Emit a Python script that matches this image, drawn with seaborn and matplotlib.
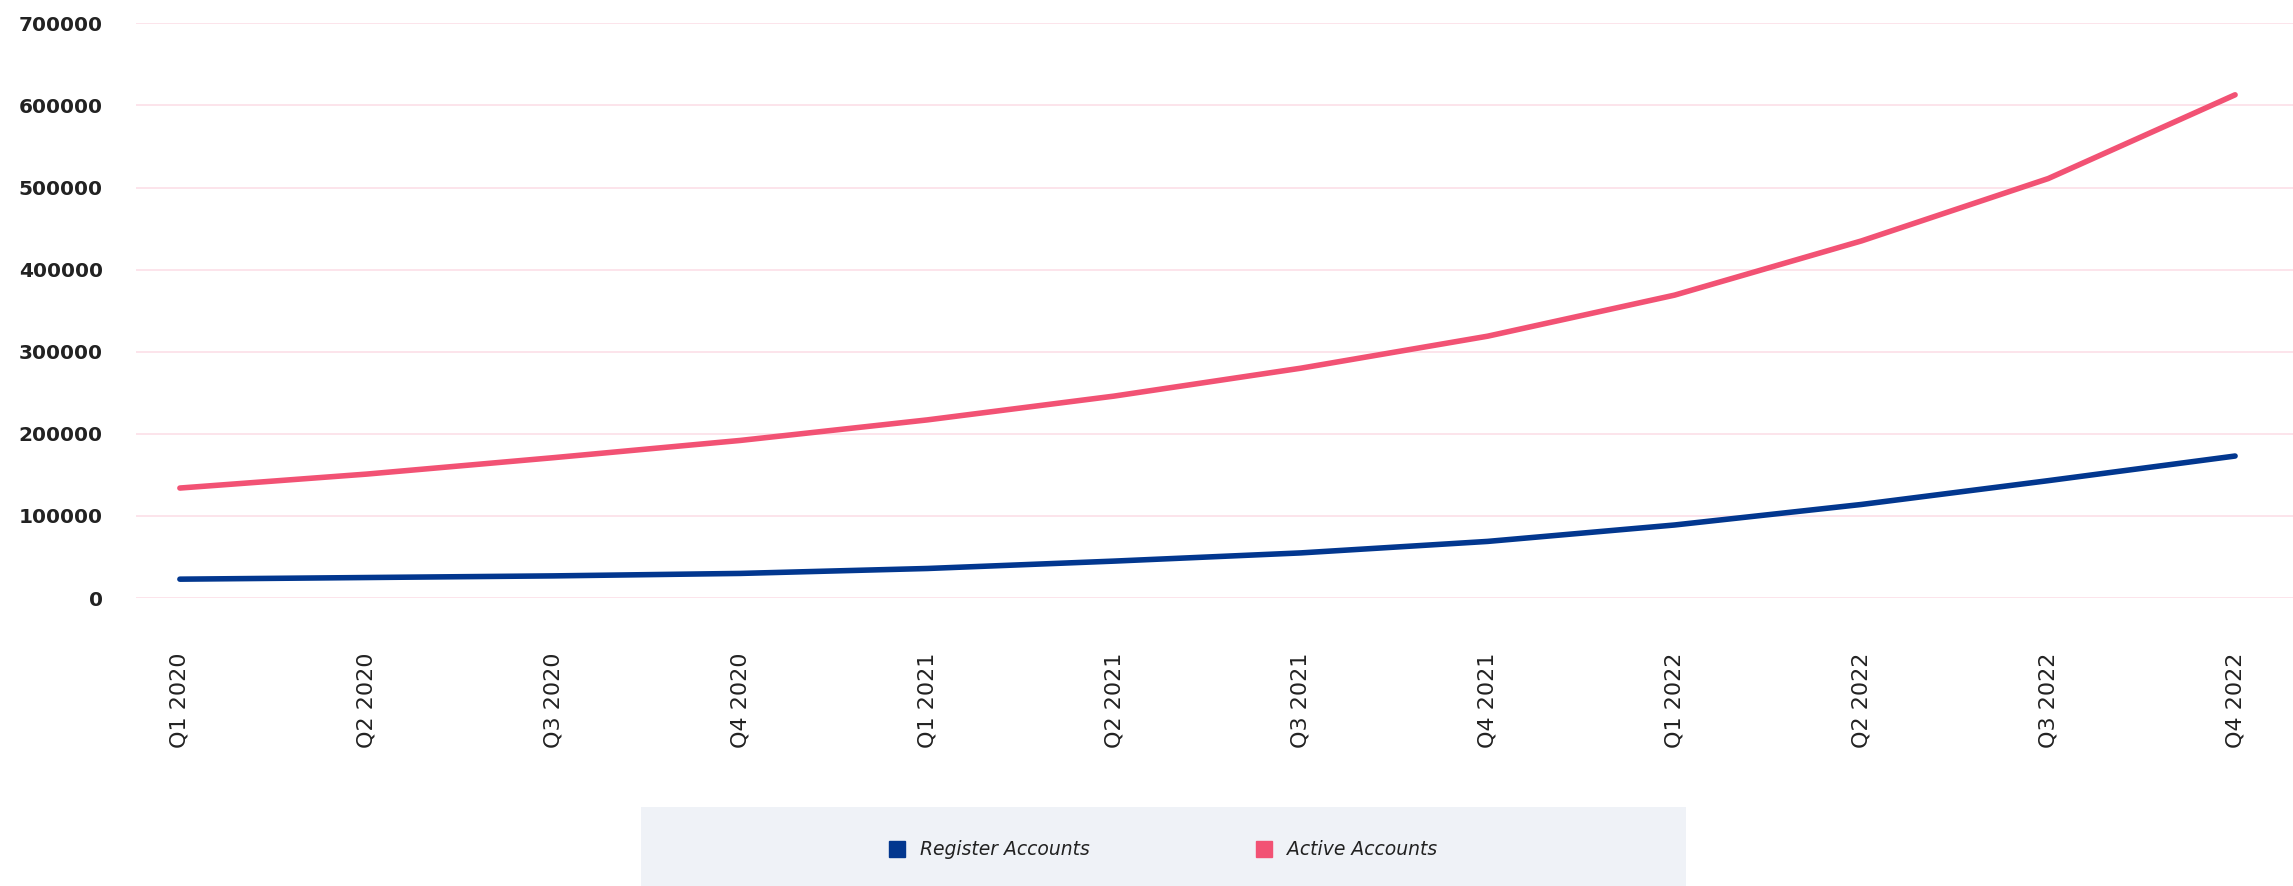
import matplotlib
matplotlib.use("Agg")
import matplotlib.pyplot as plt
import seaborn as sns
import pandas as pd
from matplotlib.lines import Line2D
from matplotlib.patches import Rectangle

quarters = ["Q1 2020", "Q2 2020", "Q3 2020", "Q4 2020",
            "Q1 2021", "Q2 2021", "Q3 2021", "Q4 2021",
            "Q1 2022", "Q2 2022", "Q3 2022", "Q4 2022"]
register_accounts = [23000, 25000, 27000, 30000, 36000, 45000,
                     55000, 69000, 89000, 114000, 143000, 173000]
active_accounts = [134000, 151000, 171000, 192000, 217000, 246000,
                   280000, 319000, 369000, 435000, 511000, 613000]
series_names = ["Register Accounts", "Active Accounts"]
y_ticks = [0, 100000, 200000, 300000, 400000, 500000, 600000, 700000]

colors = {"Register Accounts": "#02378F", "Active Accounts": "#F25274"}

df = pd.DataFrame({
    "quarter": quarters * 2,
    "value": register_accounts + active_accounts,
    "series": [series_names[0]] * len(quarters) + [series_names[1]] * len(quarters),
})

sns.set_theme(style="white")
plt.rcParams["font.family"] = ["DejaVu Sans"]

fig = plt.figure(figsize=(22.93, 8.86), dpi=100)
ax = fig.add_axes([0.0593, 0.325, 0.9407, 0.6486])

sns.lineplot(data=df, x="quarter", y="value", hue="series", palette=colors,
             sort=False, legend=False, linewidth=4.0, ax=ax,
             solid_capstyle="round", solid_joinstyle="round")

ax.set_xlim(-0.235, 11.31)
ax.set_ylim(0, 700000)
ax.set_yticks(y_ticks)
ax.set_yticklabels([str(v) for v in y_ticks], fontsize=14.5, fontweight="bold",
                   color="#222222")
ax.set_xticks(range(len(quarters)))
ax.set_xticklabels(quarters, rotation=90, fontsize=16, color="#222222",
                   fontweight="medium", va="top", ha="center")
ax.tick_params(axis="y", length=0, pad=24)
ax.tick_params(axis="x", length=0, pad=39)
ax.grid(axis="y", color="#FCE4EB", linewidth=1.4)
ax.grid(axis="x", visible=False)
for s in ax.spines.values():
    s.set_visible(False)
ax.set_xlabel("")
ax.set_ylabel("")
for line in ax.lines:
    line.set_clip_on(False)

# legend background band
fig.patches.append(Rectangle((438 / 1568, 0), (1153 - 438) / 1568, 54 / 606,
                             transform=fig.transFigure, facecolor="#EFF2F7",
                             edgecolor="none", zorder=0))
handles = [Line2D([], [], marker="s", linestyle="none", markersize=12,
                  markerfacecolor=colors[n], markeredgecolor=colors[n])
           for n in series_names]
fig.legend(handles, series_names, loc="center", bbox_to_anchor=(795 / 1568, 0.041),
           ncol=2, frameon=False, columnspacing=8.8, handletextpad=0.72,
           handlelength=1.0, prop={"style": "italic", "size": 13.5})
for t in fig.legends[0].get_texts():
    t.set_color("#222222")

fig.savefig("out.png", dpi=100, facecolor="white")
